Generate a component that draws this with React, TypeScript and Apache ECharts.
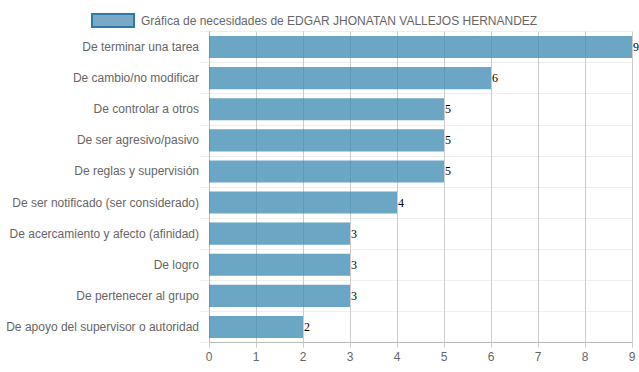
import React, { useEffect, useRef } from "react";
import * as echarts from "echarts";

const categories = [
  "De terminar una tarea",
  "De cambio/no modificar",
  "De controlar a otros",
  "De ser agresivo/pasivo",
  "De reglas y supervisión",
  "De ser notificado (ser considerado)",
  "De acercamiento y afecto (afinidad)",
  "De logro",
  "De pertenecer al grupo",
  "De apoyo del supervisor o autoridad",
];
const values = [9, 6, 5, 5, 5, 4, 3, 3, 3, 2];
const seriesName = "Gráfica de necesidades de EDGAR JHONATAN VALLEJOS HERNANDEZ";

export default function App() {
  const ref = useRef<HTMLDivElement>(null);
  useEffect(() => {
    document.body.style.margin = "0";
    const chart = echarts.init(ref.current!, null, { renderer: "svg" });
    chart.setOption({
      animation: false,
      textStyle: { fontFamily: "Liberation Sans, Arial, sans-serif" },
      legend: {
        data: [{ name: seriesName, icon: "rect" }],
        left: 86,
        top: 8,
        itemWidth: 42,
        itemHeight: 13,
        itemGap: 6,
        textStyle: { color: "#666", fontSize: 12, padding: [0, 0, 0, 2] },
        itemStyle: { color: "rgba(120,170,200,1)", borderColor: "#2c7aa6", borderWidth: 2 },
      },
      grid: { left: 209, right: 7, top: 31.5, bottom: 29.5, containLabel: false },
      xAxis: {
        type: "value",
        min: 0,
        max: 9,
        interval: 1,
        axisLine: { show: true, lineStyle: { color: "#bbb" } },
        axisTick: { show: true, length: 5, lineStyle: { color: "#ccc" } },
        axisLabel: { color: "#666", fontSize: 12, margin: 8 },
        splitLine: { show: true, lineStyle: { color: "#ccc" } },
      },
      yAxis: {
        type: "category",
        inverse: true,
        data: categories,
        axisLine: { show: true, lineStyle: { color: "#bbb" } },
        axisTick: { show: true, length: 9, lineStyle: { color: "#eee" } },
        axisLabel: { color: "#666", fontSize: 12, margin: 10 },
        splitLine: { show: true, lineStyle: { color: "#eee" } },
      },
      series: [
        {
          name: seriesName,
          type: "bar",
          data: values,
          barCategoryGap: "29%",
          itemStyle: { color: "rgba(58,136,176,0.75)" },
          label: {
            show: true,
            position: "right",
            distance: 1,
            color: "#000",
            fontFamily: "Liberation Serif, serif",
            fontSize: 12,
          },
        },
      ],
    });
    return () => chart.dispose();
  }, []);
  return <div ref={ref} style={{ width: 639, height: 372 }} />;
}
